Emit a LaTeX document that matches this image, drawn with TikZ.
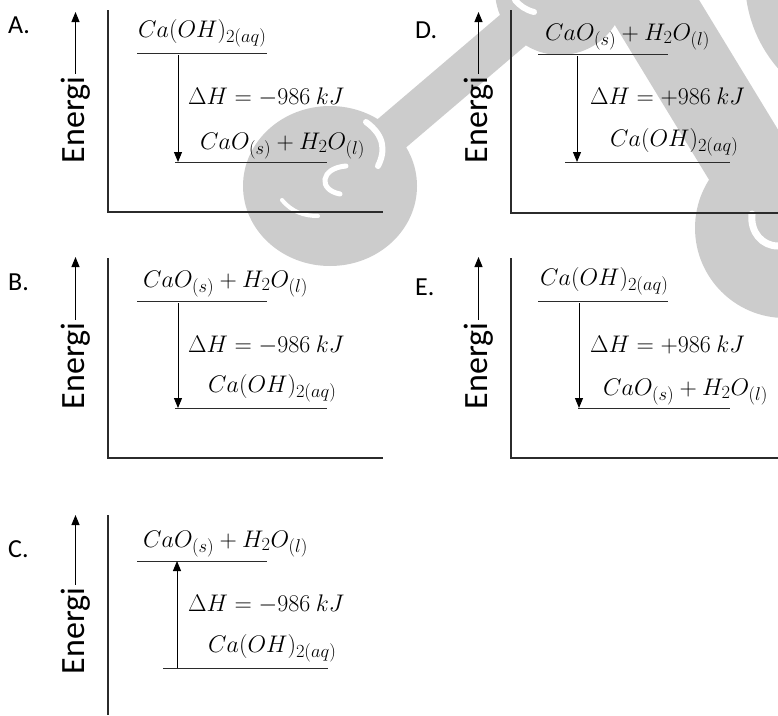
\documentclass[tikz,border=0pt]{standalone}
\usepackage{fix-cm}
\usepackage[no-math]{fontspec}
\setmainfont{Carlito}
\usetikzlibrary{arrows.meta}
\DeclareMathSizes{24}{24}{18.5}{14}
\definecolor{wmgrey}{HTML}{CCCCCC}
\definecolor{ink}{HTML}{2B2B2B}
\newcommand{\caoh}{$Ca(OH)_{2(aq)}$}
\newcommand{\caoo}{$CaO_{(s)}+H_2O_{(l)}$}
\tikzset{
  tag/.style={anchor=base west,inner sep=0pt,font=\fontsize{26}{30}\selectfont},
  energi/.style={rotate=90,inner sep=3pt,font=\fontsize{34}{40}\selectfont},
  chem/.style={anchor=base west,inner sep=0pt,font=\fontsize{24}{29}\selectfont},
  axis/.style={ink,line width=1.1pt},
  level/.style={ink,line width=1pt},
  up/.style={-{Triangle[length=10pt,width=8pt]},black,line width=1pt},
  blob/.style={fill=wmgrey},
  stick/.style={draw=wmgrey,line cap=round},
  shine/.style={white,line cap=round},
}

\begin{document}
\begin{tikzpicture}[x=1pt,y=-1pt]
\clip (0,0) rectangle (778,715);
% watermark behind
\fill[blob] (330,186) ellipse[x radius=87pt,y radius=80pt];
\draw[stick,line width=40pt] (330,186) -- (560,-10);
\fill[blob] (560,-10) circle[radius=65pt];
\draw[stick,line width=85pt] (625,-40) -- (765,190);
\fill[blob] (785,228) circle[radius=90pt];
\fill[blob] (880,-20) circle[radius=135pt];
\draw[shine,line width=6pt] (366,122) .. controls (384,135) and (386,150) .. (378,166);
\draw[shine,line width=5pt] (346,166) .. controls (320,168) and (318,190) .. (340,194);
\draw[shine,line width=4pt] (282,200) .. controls (292,212) and (304,216) .. (318,216);
\draw[shine,line width=6pt] (515,0) .. controls (520,6) and (526,10) .. (534,12);
\draw[shine,line width=7pt] (752,214) .. controls (750,232) and (762,246) .. (778,246);

% A
\begin{scope}
\node[tag] (a-tag) at (8,33) {A.};
\node[energi] (a-en) at (75.5,120) {Energi};
\coordinate (a-tip) at (74,12);
\draw[up] (a-en.east) -- (a-en.east |- a-tip);
\draw[axis] (108,10) |- (383,212);
\coordinate (a-t1) at (137,53); \coordinate (a-t2) at (267,53);
\coordinate (a-b1) at (175,162); \coordinate (a-b2) at (327,162);
\draw[level] (a-t1) -- (a-t2); \draw[level] (a-b1) -- (a-b2);
\node[chem] (a-top) at (138,37) {\caoh};
\node[chem] (a-dh) at (188,104) {$\Delta H = -986\ kJ$};
\node[chem] (a-bot) at (200,149) {\caoo};
\coordinate (a-from) at (178,55); \coordinate (a-to) at (178,162);
\draw[up] (a-from) -- (a-to);
\end{scope}

% D
\begin{scope}[shift={(403,0)}]
\node[tag] (d-tag) at (12,38) {D.};
\node[energi] (d-en) at (75.5,120) {Energi};
\coordinate (d-tip) at (74,12);
\draw[up] (d-en.east) -- (d-en.east |- d-tip);
\draw[axis] (108,10) |- (380,213);
\coordinate (d-t1) at (135,54); \coordinate (d-t2) at (265,54);
\coordinate (d-b1) at (162,162); \coordinate (d-b2) at (327,162);
\draw[level] (d-t1) -- (d-t2); \draw[level] (d-b1) -- (d-b2);
\node[chem] (d-top) at (142,40) {\caoo};
\node[chem] (d-dh) at (187,104) {$\Delta H = +986\ kJ$};
\node[chem] (d-bot) at (207,146) {\caoh};
\coordinate (d-from) at (174,56); \coordinate (d-to) at (174,162);
\draw[up] (d-from) -- (d-to);
\end{scope}

% B
\begin{scope}[shift={(0,246)}]
\node[tag] (b-tag) at (8,44) {B.};
\node[energi] (b-en) at (75.5,120) {Energi};
\coordinate (b-tip) at (74,11);
\draw[up] (b-en.east) -- (b-en.east |- b-tip);
\draw[axis] (108,12) |- (383,212);
\coordinate (b-t1) at (137,55); \coordinate (b-t2) at (267,55);
\coordinate (b-b1) at (175,162); \coordinate (b-b2) at (327,162);
\draw[level] (b-t1) -- (b-t2); \draw[level] (b-b1) -- (b-b2);
\node[chem] (b-top) at (143,41) {\caoo};
\node[chem] (b-dh) at (188,106) {$\Delta H = -986\ kJ$};
\node[chem] (b-bot) at (208,146) {\caoh};
\coordinate (b-from) at (178,57); \coordinate (b-to) at (178,162);
\draw[up] (b-from) -- (b-to);
\end{scope}

% E
\begin{scope}[shift={(403,246)}]
\node[tag] (e-tag) at (12,49) {E.};
\node[energi] (e-en) at (75.5,120) {Energi};
\coordinate (e-tip) at (74,11);
\draw[up] (e-en.east) -- (e-en.east |- e-tip);
\draw[axis] (108,12) |- (380,212);
\coordinate (e-t1) at (135,55); \coordinate (e-t2) at (265,55);
\coordinate (e-b1) at (175,162); \coordinate (e-b2) at (327,162);
\draw[level] (e-t1) -- (e-t2); \draw[level] (e-b1) -- (e-b2);
\node[chem] (e-top) at (137,39) {\caoh};
\node[chem] (e-dh) at (187,106) {$\Delta H = +986\ kJ$};
\node[chem] (e-bot) at (200,149) {\caoo};
\coordinate (e-from) at (176,57); \coordinate (e-to) at (176,162);
\draw[up] (e-from) -- (e-to);
\end{scope}

% C
\begin{scope}[shift={(0,507)}]
\node[tag] (c-tag) at (8,50) {C.};
\node[energi] (c-en) at (75.5,124) {Energi};
\coordinate (c-tip) at (74,8);
\draw[up] (c-en.east) -- (c-en.east |- c-tip);
\draw[axis] (108,8) -- (108,208);
\coordinate (c-t1) at (137,54); \coordinate (c-t2) at (267,54);
\coordinate (c-b1) at (163,161); \coordinate (c-b2) at (328,161);
\draw[level] (c-t1) -- (c-t2); \draw[level] (c-b1) -- (c-b2);
\node[chem] (c-top) at (143,40) {\caoo};
\node[chem] (c-dh) at (188,104) {$\Delta H = -986\ kJ$};
\node[chem] (c-bot) at (208,145) {\caoh};
\coordinate (c-from) at (177,161); \coordinate (c-to) at (177,54);
\draw[up] (c-from) -- (c-to);
\end{scope}
\end{tikzpicture}
\end{document}
